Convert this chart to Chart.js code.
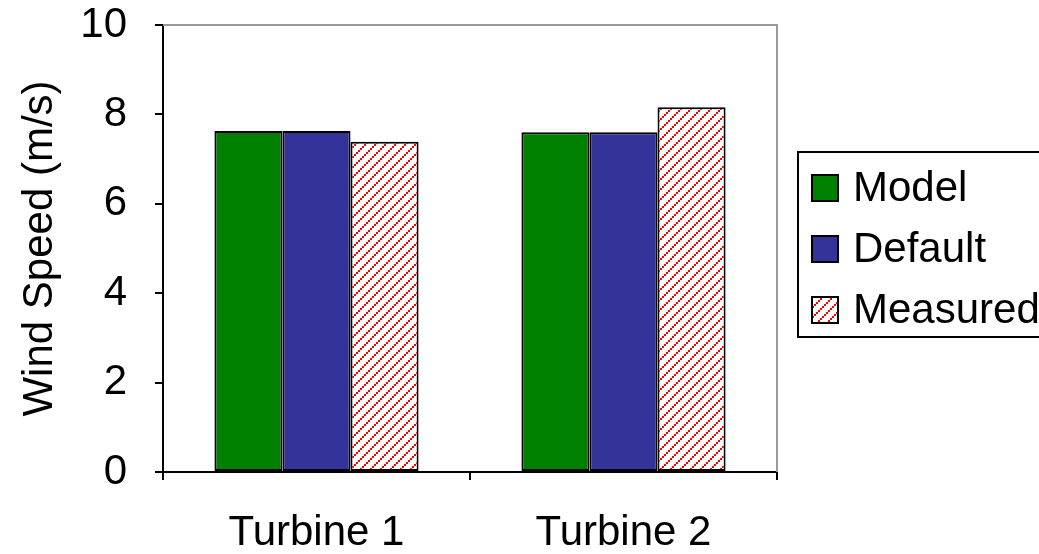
<!DOCTYPE html>
<html>
<head>
<meta charset="utf-8">
<script src="https://cdn.jsdelivr.net/npm/chart.js@4"></script>
<style>
  body { margin: 0; background: #fff; }
  #wrap { width: 1039px; height: 554px; }
</style>
</head>
<body>
<div id="wrap"><canvas id="windChart"></canvas></div>
<script>
const categories = ["Turbine 1", "Turbine 2"];
const modelValues = [7.63, 7.60];
const defaultValues = [7.63, 7.60];
const measuredValues = [7.39, 8.16];
const yTicks = [0, 2, 4, 6, 8, 10];

const FONT = '"Liberation Sans", Arial, sans-serif';

// red diagonal hatch like the Excel pattern fill
function makeHatch(){
    const tile = document.createElement("canvas");
    tile.width = 10;
    tile.height = 10;
    const c = tile.getContext("2d");
    c.fillStyle = "#fff";
    c.fillRect(0, 0, 10, 10);
    c.fillStyle = "#ff0000";
    for(let k = 0; k < 5; k++){
        c.fillRect(2 * k, 8 - 2 * k, 2, 2);
    }
    return document.getElementById("windChart").getContext("2d").createPattern(tile, "repeat");
}

const hatch = makeHatch();

// gray top/right frame + boxed legend on the right
const framePlugin = {
    id: "frame",
    afterDraw(chart){
        const ctx = chart.ctx;
        const a = chart.chartArea;
        ctx.save();
        ctx.strokeStyle = "#999";
        ctx.lineWidth = 2;
        ctx.beginPath();
        ctx.moveTo(a.left, a.top);
        ctx.lineTo(a.right, a.top);
        ctx.lineTo(a.right, a.bottom);
        ctx.stroke();

        // legend
        ctx.strokeStyle = "#000";
        ctx.strokeRect(798, 152, 260, 185);
        ctx.font = "42px " + FONT;
        ctx.textBaseline = "middle";
        chart.data.datasets.forEach(function(ds, i){
            const cy = 188 + i * 61;
            ctx.fillStyle = ds.backgroundColor;
            ctx.fillRect(812, cy - 13, 26, 26);
            ctx.lineWidth = 2;
            ctx.strokeStyle = "#000";
            ctx.strokeRect(812, cy - 13, 26, 26);
            ctx.fillStyle = "#000";
            ctx.fillText(ds.label, 853, cy + 1);
        });
        ctx.restore();
    }
};

Chart.defaults.color = "#000";
Chart.defaults.font.family = FONT;

const windChart = new Chart(
    document.getElementById("windChart"),
    {
        type: "bar",
        data: {
            labels: categories,
            datasets: [
                { label: "Model", data: modelValues, backgroundColor: "#008000" },
                { label: "Default", data: defaultValues, backgroundColor: "#333399" },
                { label: "Measured", data: measuredValues, backgroundColor: hatch }
            ].map(function(ds){
                ds.borderColor = "#000";
                ds.borderWidth = 2;
                ds.borderSkipped = false;
                ds.barPercentage = 1;
                ds.categoryPercentage = 0.665;
                return ds;
            })
        },
        options: {
            responsive: true,
            maintainAspectRatio: false,
            animation: false,
            layout: { padding: { top: 25, right: 262, left: 0, bottom: 0 } },
            plugins: {
                legend: { display: false },
                tooltip: { enabled: false }
            },
            scales: {
                x: {
                    grid: {
                        drawOnChartArea: false,
                        tickLength: 8,
                        color: "#000",
                        lineWidth: 2
                    },
                    border: { color: "#000", width: 2 },
                    ticks: {
                        font: { size: 42 },
                        padding: 28,
                        maxRotation: 0
                    },
                    afterFit(scale){
                        scale.height = 82;
                        scale.paddingLeft = 0;
                        scale.paddingRight = 0;
                    }
                },
                y: {
                    min: 0,
                    max: 10,
                    afterBuildTicks(scale){
                        scale.ticks = yTicks.map(function(v){ return { value: v }; });
                    },
                    grid: {
                        drawOnChartArea: false,
                        tickLength: 8,
                        color: "#000",
                        lineWidth: 2
                    },
                    border: { color: "#000", width: 2 },
                    ticks: {
                        font: { size: 42 },
                        padding: 28
                    },
                    title: {
                        display: true,
                        text: "Wind Speed (m/s)",
                        font: { size: 42 },
                        padding: { top: 15, bottom: 0 }
                    },
                    afterFit(scale){
                        scale.width = 163;
                        scale.paddingTop = 0;
                        scale.paddingBottom = 0;
                    }
                }
            }
        },
        plugins: [framePlugin]
    }
);
</script>
</body>
</html>
